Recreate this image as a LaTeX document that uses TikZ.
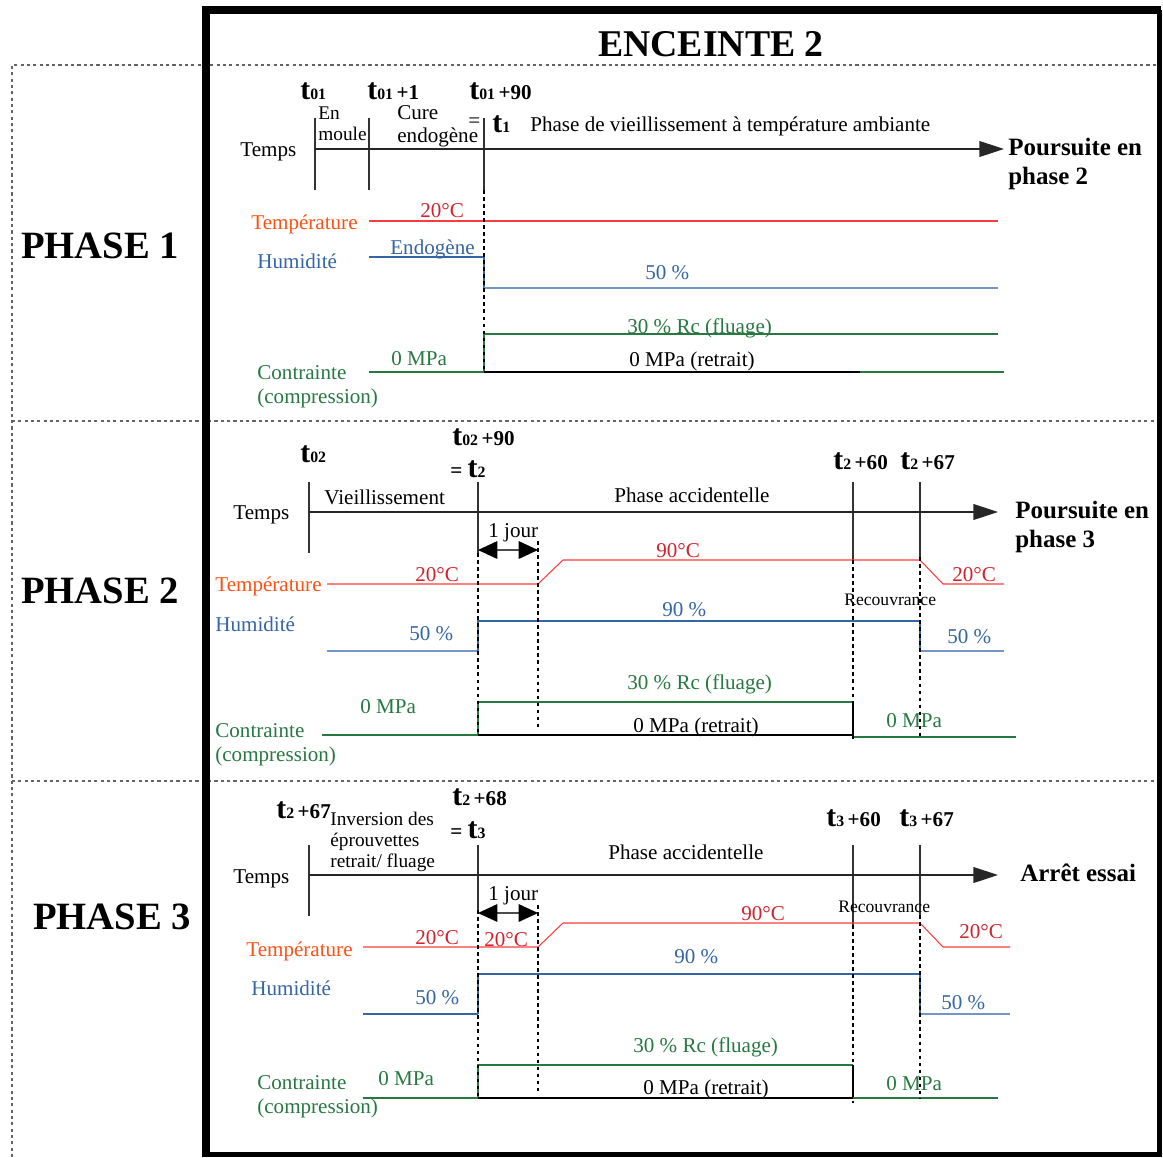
\documentclass[tikz,border=0pt]{standalone}
\usepackage{fontspec}
\setmainfont{Liberation Serif}
\usetikzlibrary{arrows.meta}
\definecolor{tempname}{RGB}{255,80,20}
\definecolor{templine}{RGB}{255,60,60}
\definecolor{tempval}{RGB}{210,35,45}
\definecolor{humblue}{RGB}{52,101,164}
\definecolor{humlight}{RGB}{114,150,200}
\definecolor{stressgreen}{RGB}{40,120,65}
\definecolor{framegray}{RGB}{100,100,100}
\newcommand{\tmark}[2]{\textbf{{\fontsize{17}{17}\selectfont t}{\fontsize{9}{9}\selectfont #1}\,#2}}
\tikzset{
  txt/.style={inner sep=0pt, anchor=west, yshift=-1.2pt, font=\fontsize{12}{12.5}\selectfont},
  tlab/.style={inner sep=0pt, anchor=west, yshift=-0.6pt, font=\fontsize{12}{14}\selectfont},
  small/.style={inner sep=0pt, anchor=west, yshift=-0.8pt, font=\fontsize{10}{12}\selectfont},
  big/.style={inner sep=0pt, font=\fontsize{22}{24}\selectfont\bfseries},
  next/.style={inner sep=0pt, anchor=north west, align=left, font=\fontsize{14.2}{16.4}\selectfont\bfseries},
  frame/.style={framegray, line width=0.6pt, dash pattern=on 1.8pt off 1.8pt},
  ticks/.style={black!80, line width=0.7pt},
  vdash/.style={black, line width=0.6pt, dash pattern=on 2pt off 2pt},
  axis/.style={black!85, line width=0.7pt, -{Triangle[length=14pt,width=9pt]}},
  jour/.style={black!70, line width=0.8pt, {Triangle[length=11pt,width=10pt,black]}-{Triangle[length=11pt,width=10pt,black]}},
  tline/.style={templine, line width=0.6pt},
  hline/.style={humblue, line width=0.6pt},
  hlight/.style={humlight, line width=0.7pt},
  sline/.style={stressgreen, line width=0.6pt},
  kline/.style={black, line width=0.6pt}
}
\begin{document}
\begin{tikzpicture}[x=0.02cm, y=-0.02cm]
\useasboundingbox (0,0) rectangle (1163,1157);
% cadre
\draw[frame] (12,1157) -- (12,65) -- (1160,65);
\draw[frame] (12,421) -- (1160,421);
\draw[frame] (12,781) -- (1160,781);
\draw[line width=4.6pt] (206,1157) -- (206,10) -- (1161,10);
\draw[line width=2.6pt] (1159.5,10) -- (1159.5,1154.5) -- (206,1154.5);
\node[font=\fontsize{21.5}{24}\selectfont\bfseries] (title) at (711,44) {ENCEINTE 2};
\node[big] (ph1) at (100,246) {PHASE 1};
\node[big] (ph2) at (100,591) {PHASE 2};
\node[big] (ph3) at (112,917) {PHASE 3};

% phase 1
\node[tlab] (p1ta) at (300,90) {\tmark{01}{}};
\node[tlab] (p1tb) at (367,90) {\tmark{01}{+1}};
\node[tlab] (p1tc) at (469,90) {\tmark{01}{+90}};
\node[txt] (p1eq) at (468,121) {=};
\node[tlab] (p1td) at (492,123) {\tmark{1}{}};
\node[inner sep=0pt, anchor=north west, align=left, font=\fontsize{11}{12.5}\selectfont] (p1moule) at (318,106) {En\\moule};
\node[inner sep=0pt, anchor=north west, align=left, font=\fontsize{12}{13}\selectfont] (p1cure) at (397,105) {Cure\\endogène};
\node[txt] (p1vieil) at (530,124) {Phase de vieillissement à température ambiante};
\node[txt] (p1temps) at (240,150) {Temps};
\node[next] (p1next) at (1008,138) {Poursuite en\\phase 2};
\draw[ticks] (315,118) -- (315,190);
\draw[ticks] (369,118) -- (369,190);
\draw[ticks] (484,118) -- (484,190);
\draw[axis] (315,149) -- (1004,149);
\node[txt, tempname] (p1tn) at (251,222) {Température};
\node[txt, tempval] (p1t20) at (420,208) {20°C};
\draw[tline] (369,221) -- (998,221);
\node[txt, humblue] (p1hn) at (257,259) {Humidité};
\node[txt, humblue] (p1endo) at (390,247) {Endogène};
\node[txt, humblue] (p1h50) at (645,271) {50 \%};
\draw[hline] (369,257) -- (484,257) -- (484,288);
\draw[hlight] (484,288) -- (998,288);
\node[inner sep=0pt, anchor=north west, align=left, stressgreen, font=\fontsize{12}{13.6}\selectfont] (p1cn) at (257,365) {Contrainte\\(compression)};
\node[txt, stressgreen] (p1c0) at (391,356) {0 MPa};
\node[txt, stressgreen] (p1c30) at (627,326) {30 \% Rc (fluage)};
\node[txt] (p1cret) at (629,359) {0 MPa (retrait)};
\draw[sline] (369,372) -- (484,372);
\draw[sline] (484,372) -- (484,334) -- (998,334);
\draw[kline] (484,372) -- (860,372);
\draw[sline] (860,372) -- (1004,372);
\draw[vdash] (484,190) -- (484,372);

% phase 2
\node[tlab] (p2ta) at (300,453) {\tmark{02}{}};
\node[tlab] (p2tb) at (452,436) {\tmark{02}{+90}};
\node[tlab] (p2tc) at (450,468) {\textbf{=}\ \tmark{2}{}};
\node[tlab] (p2td) at (833,460) {\tmark{2}{+60}};
\node[tlab] (p2te) at (900,460) {\tmark{2}{+67}};
\node[txt] (p2vieil) at (324,495) {Vieillissement};
\node[txt] (p2acc) at (614,493) {Phase accidentelle};
\node[txt] (p2temps) at (233,513) {Temps};
\node[next] (p2next) at (1015,501) {Poursuite en\\phase 3};
\draw[ticks] (309,482) -- (309,553);
\draw[ticks] (478,482) -- (478,553);
\draw[ticks] (853,482) -- (853,560);
\draw[ticks] (920,482) -- (920,557);
\draw[axis] (309,512) -- (998,512);
\node[txt] (p2jour) at (488,531) {1 jour};
\draw[jour] (478,550) -- (538,550);
\node[txt, tempname] (p2tn) at (215,584) {Température};
\node[txt, tempval] (p2t20) at (415,572) {20°C};
\node[txt, tempval] (p2t90) at (656,548) {90°C};
\node[txt, tempval] (p2t20b) at (952,572) {20°C};
\draw[tline] (327,584) -- (538,584) -- (563,560) -- (920,560) -- (943,584) -- (1004,584);
\node[small] (p2rec) at (844,598) {Recouvrance};
\node[txt, humblue] (p2hn) at (215,622) {Humidité};
\node[txt, humblue] (p2h50) at (409,632) {50 \%};
\node[txt, humblue] (p2h90) at (662,608) {90 \%};
\node[txt, humblue] (p2h50b) at (947,635) {50 \%};
\draw[hlight] (327,651) -- (478,651);
\draw[hline] (478,651) -- (478,621) -- (920,621) -- (920,651);
\draw[hlight] (920,651) -- (1004,651);
\node[inner sep=0pt, anchor=north west, align=left, stressgreen, font=\fontsize{12}{13.6}\selectfont] (p2cn) at (215,723) {Contrainte\\(compression)};
\node[txt, stressgreen] (p2c0) at (360,704) {0 MPa};
\node[txt, stressgreen] (p2c30) at (627,682) {30 \% Rc (fluage)};
\node[txt] (p2cret) at (633,725) {0 MPa (retrait)};
\node[txt, stressgreen] (p2c0b) at (886,718) {0 MPa};
\draw[sline] (322,735) -- (478,735);
\draw[sline] (478,735) -- (478,702) -- (853,702);
\draw[kline] (478,735) -- (853,735) -- (853,702);
\draw[sline] (853,737) -- (1016,737);
\draw[vdash] (478,553) -- (478,735);
\draw[vdash] (538,541) -- (538,730);
\draw[vdash] (853,560) -- (853,740);
\draw[vdash] (920,557) -- (920,737);

% phase 3
\node[tlab] (p3ta) at (276,809) {\tmark{2}{+67}};
\node[inner sep=0pt, anchor=north west, align=left, font=\fontsize{11}{11.9}\selectfont] (p3inv) at (330,812) {Inversion des\\éprouvettes\\retrait/ fluage};
\node[tlab] (p3tb) at (452,796) {\tmark{2}{+68}};
\node[tlab] (p3tc) at (450,829) {\textbf{=}\ \tmark{3}{}};
\node[tlab] (p3td) at (826,817) {\tmark{3}{+60}};
\node[tlab] (p3te) at (899,817) {\tmark{3}{+67}};
\node[txt] (p3acc) at (608,850) {Phase accidentelle};
\node[txt] (p3temps) at (233,877) {Temps};
\node[inner sep=0pt, anchor=west, font=\fontsize{14.2}{16.4}\selectfont\bfseries] (p3stop) at (1020,873) {Arrêt essai};
\draw[ticks] (309,845) -- (309,916);
\draw[ticks] (478,845) -- (478,910);
\draw[ticks] (853,845) -- (853,925);
\draw[ticks] (920,845) -- (920,915);
\draw[axis] (309,875) -- (998,875);
\node[txt] (p3jour) at (488,894) {1 jour};
\draw[jour] (478,913) -- (538,913);
\node[txt, tempname] (p3tn) at (246,949) {Température};
\node[txt, tempval] (p3t20) at (415,935) {20°C};
\node[txt, tempval] (p3t20b) at (484,937) {20°C};
\node[txt, tempval] (p3t90) at (741,911) {90°C};
\node[txt, tempval] (p3t20c) at (959,929) {20°C};
\draw[tline] (363,947) -- (538,947) -- (563,923) -- (920,923) -- (943,947) -- (1010,947);
\node[small] (p3rec) at (838,905) {Recouvrance};
\node[txt, humblue] (p3hn) at (251,986) {Humidité};
\node[txt, humblue] (p3h50) at (415,996) {50 \%};
\node[txt, humblue] (p3h90) at (674,955) {90 \%};
\node[txt, humblue] (p3h50b) at (941,1001) {50 \%};
\draw[hline] (363,1014) -- (478,1014);
\draw[hline] (478,1014) -- (478,974) -- (920,974) -- (920,1014);
\draw[hlight] (920,1014) -- (1010,1014);
\node[inner sep=0pt, anchor=north west, align=left, stressgreen, font=\fontsize{12}{13.6}\selectfont] (p3cn) at (257,1075) {Contrainte\\(compression)};
\node[txt, stressgreen] (p3c0) at (378,1076) {0 MPa};
\node[txt, stressgreen] (p3c30) at (633,1045) {30 \% Rc (fluage)};
\node[txt] (p3cret) at (643,1087) {0 MPa (retrait)};
\node[txt, stressgreen] (p3c0b) at (886,1081) {0 MPa};
\draw[sline] (363,1098) -- (478,1098);
\draw[sline] (478,1098) -- (478,1065) -- (853,1065);
\draw[kline] (478,1098) -- (853,1098) -- (853,1065);
\draw[sline] (853,1098) -- (998,1098);
\draw[vdash] (478,910) -- (478,1098);
\draw[vdash] (538,905) -- (538,1092);
\draw[vdash] (853,925) -- (853,1103);
\draw[vdash] (920,915) -- (920,1098);
\end{tikzpicture}
\end{document}
